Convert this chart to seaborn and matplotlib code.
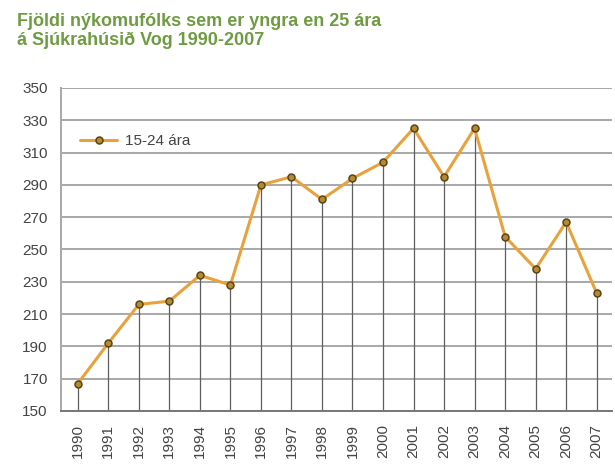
import matplotlib
matplotlib.use("Agg")
import matplotlib.pyplot as plt
import seaborn as sns
import pandas as pd

years = [1990, 1991, 1992, 1993, 1994, 1995, 1996, 1997, 1998, 1999,
         2000, 2001, 2002, 2003, 2004, 2005, 2006, 2007]
values = [167, 192, 216, 218, 234, 228, 290, 295, 281, 294,
          304, 325, 295, 325, 258, 238, 267, 223]
series_label = "15-24 ára"
title = "Fjöldi nýkomufólks sem er yngra en 25 ára\ná Sjúkrahúsið Vog 1990-2007"
yticks = [150, 170, 190, 210, 230, 250, 270, 290, 310, 330, 350]

df = pd.DataFrame({"year": years, "value": values, "series": series_label})

sns.set_style("white")
plt.rcParams['font.family'] = ['Liberation Sans', 'DejaVu Sans']

fig = plt.figure(figsize=(6.15, 4.68), dpi=100)
ax = fig.add_axes([0.0992, 0.1218, 0.8958, 0.6902])

line_color = "#e9a23b"
ax.vlines(df["year"], 150, df["value"], color="#5e5e5e", lw=0.9, zorder=2)
for y in yticks:
    ax.axhline(y, color="#a8a8a8", lw=1.4, zorder=1)

sns.lineplot(data=df, x="year", y="value", hue="series", palette=[line_color],
             marker="o", markersize=5, markerfacecolor="#b58a30",
             markeredgecolor="#5a4515", markeredgewidth=1.1, lw=2.2,
             ax=ax, zorder=3)

ax.set_xlim(1989.45, 2007.5)
ax.set_ylim(150, 350)
ax.set_yticks(yticks)
ax.set_xticks(years)
ax.set_xticklabels([str(y) for y in years], rotation=90)
ax.set_xlabel("")
ax.set_ylabel("")
ax.tick_params(axis="both", labelsize=11, colors="#444444", length=6, width=1.2)
ax.tick_params(axis="y", length=6, color="#a8a8a8")
ax.tick_params(axis="x", color="#5e5e5e")
for lab in ax.get_xticklabels() + ax.get_yticklabels():
    lab.set_color("#444444")

for s in ["top", "right"]:
    ax.spines[s].set_visible(False)
ax.spines["left"].set_color("#a8a8a8")
ax.spines["left"].set_linewidth(1.4)
ax.spines["bottom"].set_color("#777777")
ax.spines["bottom"].set_linewidth(1.4)

leg = ax.legend(loc="upper left", bbox_to_anchor=(0.01, 0.90), frameon=False,
                fontsize=11, handlelength=2.4, handletextpad=0.5)
for t in leg.get_texts():
    t.set_color("#444444")

fig.text(0.028, 0.972, title, ha="left", va="top", fontsize=13,
         fontweight="bold", color="#6f9c42", linespacing=1.1)

fig.savefig("out.png", dpi=100)
